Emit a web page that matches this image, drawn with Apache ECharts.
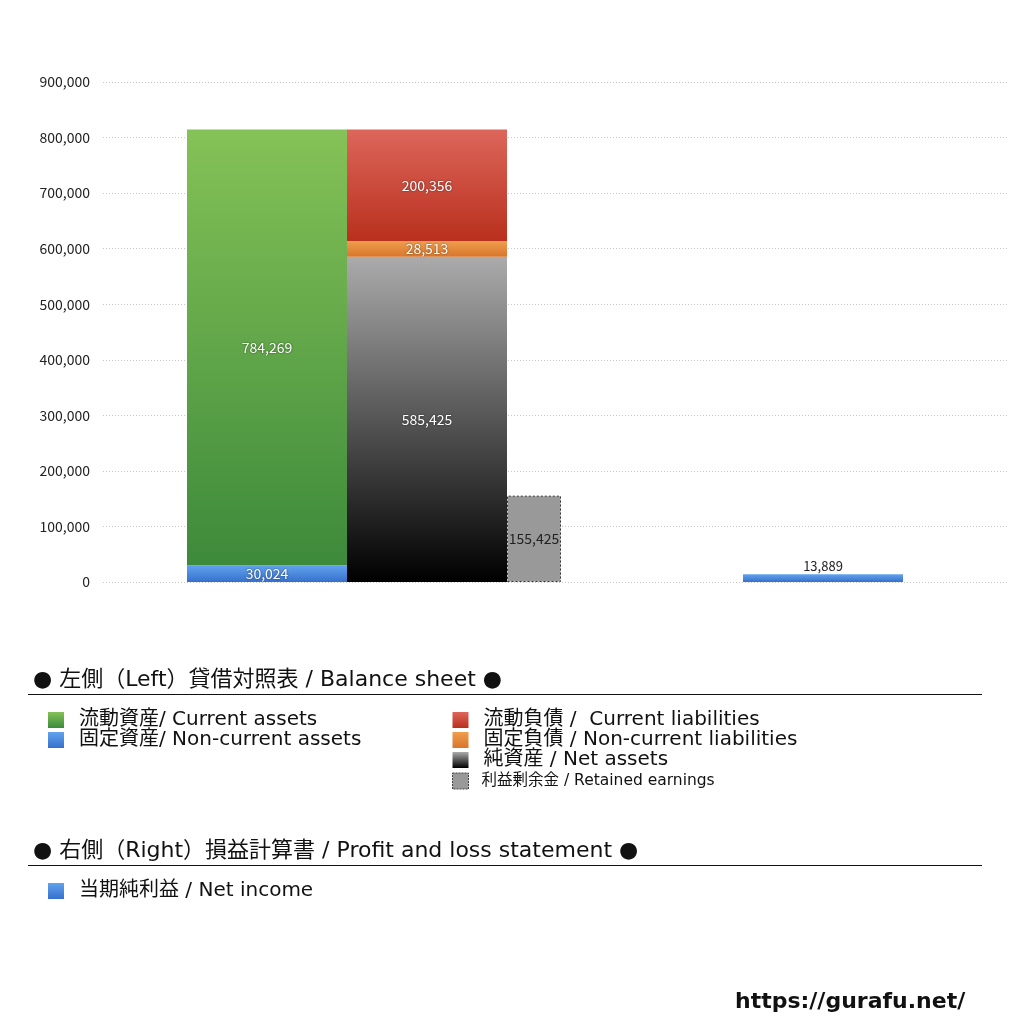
<!DOCTYPE html>
<html>
<head>
<meta charset="utf-8">
<title>貸借対照表 / 損益計算書</title>
<script src="https://cdn.jsdelivr.net/npm/echarts@6/dist/echarts.min.js"></script>
<style>
  html, body { margin: 0; padding: 0; background: #fff; }
  #chart { width: 1024px; height: 1024px; }
</style>
</head>
<body>
<div id="chart"></div>
<script>
// 左側 = 貸借対照表, 右側 = 損益計算書
const categories = ['貸借対照表', '損益計算書']
const nonCurrentAssets = [30024, '-']
const currentAssets = [784269, '-']
const netAssets = [585425, '-']
const nonCurrentLiabilities = [28513, '-']
const currentLiabilities = [200356, '-']
const retainedEarnings = [155425, '-']
const netIncome = ['-', 13889]

const yMax = 900000
const yStep = 100000

const FONT = '"Noto Sans CJK JP", "Noto Sans", sans-serif'
const TEXT_FONT = '"DejaVu Sans", "Noto Sans CJK JP", sans-serif'

const fmt = v => Number(v).toLocaleString('en-US')

const grad = (top, bottom) => ({
  type: 'linear', x: 0, y: 0, x2: 0, y2: 1,
  colorStops: [{ offset: 0, color: top }, { offset: 1, color: bottom }]
})

const whiteLabel = {
  show: true,
  position: 'inside',
  color: '#fff',
  fontSize: 14,
  fontFamily: FONT,
  textShadowColor: 'rgba(0,0,0,0.6)',
  textShadowBlur: 2,
  formatter: p => fmt(p.value)
}
const darkLabel = Object.assign({}, whiteLabel, { color: '#222', textShadowBlur: 0 })

function bar(name, data, stack, width, color, label, extra) {
  return Object.assign({
    name,
    type: 'bar',
    xAxisIndex: 1,
    yAxisIndex: 1,
    stack,
    barWidth: width,
    barGap: 0,
    data,
    itemStyle: { color },
    label
  }, extra || {})
}

const legendText = {
  fontSize: 20,
  lineHeight: 20,
  color: '#111',
  fontFamily: TEXT_FONT,
  padding: [0, 0, 0, 10]
}

function legend(left, top, names, extraData) {
  return {
    left, top,
    padding: 0,
    orient: 'vertical',
    selectedMode: false,
    itemWidth: 16,
    itemHeight: 16,
    itemGap: 0,
    icon: 'rect',
    textStyle: legendText,
    data: names.map(n => Object.assign({ name: n }, (extraData || {})[n] || {}))
  }
}

function heading(text, top, lineY) {
  return [
    {
      type: 'text', left: 33, top,
      style: { text, font: '22px ' + TEXT_FONT, fill: '#111' }
    },
    {
      type: 'line', shape: { x1: 28, y1: lineY, x2: 982, y2: lineY },
      style: { stroke: '#111', lineWidth: 1 }
    }
  ]
}

const chart = echarts.init(document.getElementById('chart'))

const option = {
  backgroundColor: '#fff',
  animation: false,
  grid: [
    { left: 103, right: 17, top: 82, height: 500 },
    // 棒グラフ用 (横位置合わせのため別グリッド)
    { left: 176, width: 792, top: 82, height: 500 }
  ],
  xAxis: [
    { gridIndex: 0, type: 'category', data: [''], show: false },
    { gridIndex: 1, type: 'category', data: categories, show: false }
  ],
  yAxis: [
    {
      gridIndex: 0,
      type: 'value',
      min: 0,
      max: yMax,
      interval: yStep,
      axisLine: { show: false },
      axisTick: { show: false },
      axisLabel: {
        margin: 13,
        color: '#222',
        fontSize: 14,
        fontFamily: FONT,
        formatter: v => fmt(v)
      },
      splitLine: { lineStyle: { color: '#c8c8c8', type: [1, 2], width: 1 } }
    },
    { gridIndex: 1, type: 'value', min: 0, max: yMax, show: false }
  ],
  legend: [
    legend(48, 710, ['流動資産/ Current assets', '固定資産/ Non-current assets']),
    legend(452, 710, [
      '流動負債 /  Current liabilities',
      '固定負債 / Non-current liabilities',
      '純資産 / Net assets',
      '利益剰余金 / Retained earnings'
    ], {
      '利益剰余金 / Retained earnings': {
        textStyle: { fontSize: 15.5, lineHeight: 22, padding: [0, 0, 0, 8] },
        itemStyle: { color: '#999', borderColor: '#444', borderWidth: 1, borderType: [2, 1] }
      }
    }),
    legend(48, 881, ['当期純利益 / Net income'])
  ],
  graphic: [
    ...heading('● 左側（Left）貸借対照表 / Balance sheet ●', 669, 694.5),
    ...heading('● 右側（Right）損益計算書 / Profit and loss statement ●', 840, 865.5),
    {
      type: 'text', left: 735, top: 991,
      style: { text: 'https://gurafu.net/', font: 'bold 22px "DejaVu Sans", sans-serif', fill: '#111' }
    }
  ],
  series: [
    bar('固定資産/ Non-current assets', nonCurrentAssets, 'a', 160, grad('#62a3ee', '#3670cc'), whiteLabel),
    bar('流動資産/ Current assets', currentAssets, 'a', 160, grad('#85c257', '#3d8a3b'), whiteLabel),
    bar('純資産 / Net assets', netAssets, 'b', 160, grad('#ababab', '#000000'), whiteLabel),
    bar('固定負債 / Non-current liabilities', nonCurrentLiabilities, 'b', 160, grad('#ef9e4e', '#d9762b'), whiteLabel),
    bar('流動負債 /  Current liabilities', currentLiabilities, 'b', 160, grad('#dd665b', '#b9301d'), whiteLabel),
    bar('利益剰余金 / Retained earnings', retainedEarnings, 'c', 54, '#999999', darkLabel,
      { itemStyle: { color: '#999999', borderColor: '#333', borderWidth: 1, borderType: [2, 2] } }),
    bar('当期純利益 / Net income', netIncome, 'b', 160, grad('#62a3ee', '#3670cc'),
      Object.assign({}, darkLabel, { position: 'top', distance: 2, fontSize: 13 }))
  ]
}

chart.setOption(option)
</script>
</body>
</html>
